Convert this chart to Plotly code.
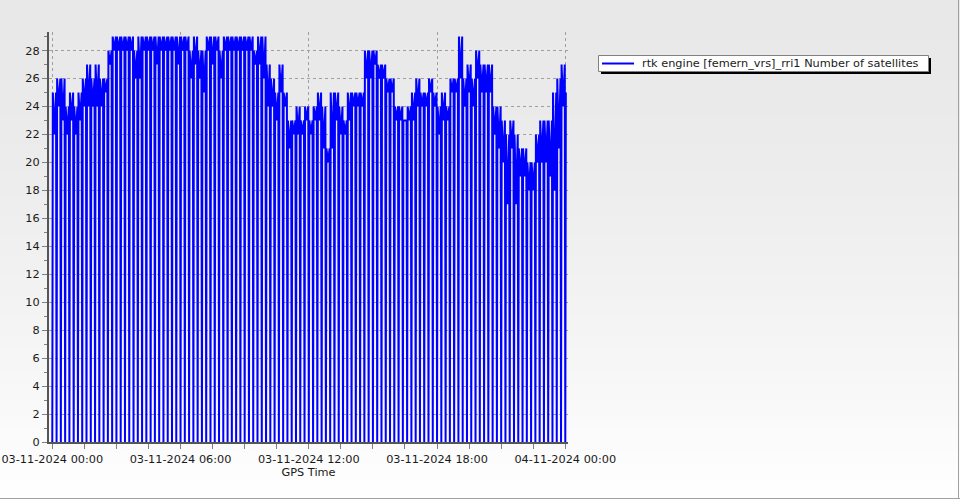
import pandas as pd
import plotly.graph_objects as go

# ---------------- data ----------------
series_name = "rtk engine [femern_vrs]_rri1 Number of satellites"
x_title = "GPS Time"
start_time = "2024-11-03 00:00"
block_minutes = 12          # the count drops to 0 once every 12 minutes

# upper and lower satellite count inside each 12-minute block
block_hi = [25, 26, 26, 24, 25, 24, 25, 26, 27, 26,
            27, 26, 26, 28, 29, 29, 29, 29, 29, 28,
            29, 29, 29, 29, 29, 29, 29, 29, 29, 29,
            29, 29, 28, 29, 28, 28, 29, 29, 29, 28,
            29, 29, 29, 29, 29, 29, 29, 28, 29, 29,
            27, 26, 25, 27, 25, 23, 23, 24, 23, 24,
            23, 24, 25, 24, 21, 25, 25, 24, 23, 25,
            25, 25, 25, 28, 28, 28, 27, 27, 26, 26,
            24, 24, 23, 24, 25, 26, 25, 25, 26, 25,
            24, 25, 24, 26, 26, 29, 26, 27, 26, 28,
            27, 27, 27, 24, 24, 23, 22, 23, 22, 21,
            21, 20, 20, 22, 23, 23, 23, 25, 26, 27]
block_lo = [22, 24, 23, 22, 23, 22, 23, 24, 24, 24,
            24, 24, 25, 27, 28, 28, 28, 28, 28, 26,
            26, 28, 28, 28, 27, 28, 28, 28, 28, 27,
            28, 28, 26, 27, 26, 25, 28, 27, 28, 26,
            28, 28, 28, 28, 28, 28, 28, 27, 27, 26,
            24, 24, 23, 25, 24, 21, 22, 22, 22, 23,
            22, 23, 23, 21, 20, 21, 23, 22, 22, 23,
            24, 24, 24, 26, 26, 27, 26, 26, 25, 25,
            23, 23, 23, 23, 23, 24, 24, 24, 25, 24,
            22, 23, 23, 25, 25, 26, 24, 25, 24, 26,
            25, 25, 25, 22, 21, 20, 17, 21, 17, 19,
            19, 18, 18, 20, 20, 20, 19, 18, 21, 24]
end_value = 25
y_tick_step = 2

# ---------------- layout geometry ----------------
W, H = 960, 500
L, R, T, B = 49, 392, 32, 58
PW, PH = W - L - R, H - T - B
PX_PER_HOUR = 21.375


def px(xp):
    return (xp - L) / PW


def py(yp):
    return (H - B - yp) / PH


# ---------------- build the trace ----------------
t0 = pd.Timestamp(start_time)
blk = pd.Timedelta(minutes=block_minutes)
d = pd.Timedelta(seconds=90)
xs, ys = [], []
for k, (hi, lo) in enumerate(zip(block_hi, block_lo)):
    t = t0 + k * blk
    xs += [t, t + d, t + blk / 2, t + blk - d]
    ys += [0, hi, lo, hi]
t_end = t0 + len(block_hi) * blk
xs += [t_end, t_end + d]
ys += [0, end_value]

x_left = t0 - pd.Timedelta(hours=3.3 / PX_PER_HOUR)
x_right = x_left + pd.Timedelta(hours=PW / PX_PER_HOUR)
y_top = PH / 13.98

fig = go.Figure()
fig.add_trace(go.Scatter(x=xs, y=ys, mode="lines", name=series_name,
                         line=dict(color="#0000ff", width=2),
                         showlegend=False, hoverinfo="skip"))

shapes = []
# background vertical gradient
n = 100
for i in range(n):
    y0p, y1p = i * H / n, (i + 1) * H / n
    v = int(round(232 + 23 * (((y0p + y1p) / 2) / H) ** 1.5))
    c = f"rgb({v},{v},{v})"
    shapes.append(dict(type="rect", xref="paper", yref="paper",
                       x0=px(0), x1=px(W), y0=py(y1p + 0.5), y1=py(y0p),
                       fillcolor=c, line=dict(width=0), layer="below"))
# outer border (bottom / right)
shapes.append(dict(type="line", xref="paper", yref="paper",
                   x0=px(0), x1=px(W), y0=py(498.5), y1=py(498.5),
                   line=dict(color="#a0a0a0", width=1), layer="above"))
shapes.append(dict(type="line", xref="paper", yref="paper",
                   x0=px(958.5), x1=px(958.5), y0=py(0), y1=py(499),
                   line=dict(color="#a0a0a0", width=1), layer="above"))
# legend: shadow, box, sample line
shapes.append(dict(type="rect", xref="paper", yref="paper",
                   x0=px(601), x1=px(931), y0=py(74), y1=py(58),
                   fillcolor="#000000", line=dict(width=0), layer="above"))
shapes.append(dict(type="rect", xref="paper", yref="paper",
                   x0=px(598.5), x1=px(928.5), y0=py(71.5), y1=py(55.5),
                   fillcolor="#ffffff", line=dict(color="#808080", width=1), layer="above"))
shapes.append(dict(type="line", xref="paper", yref="paper",
                   x0=px(602), x1=px(634), y0=py(63.5), y1=py(63.5),
                   line=dict(color="#0000ff", width=2), layer="above"))

font = dict(family="DejaVu Sans, Verdana, sans-serif", size=11.3, color="#1a1a1a")

fig.update_layout(
    width=W, height=H,
    margin=dict(l=L, r=R, t=T, b=B, pad=0, autoexpand=False),
    paper_bgcolor="#ffffff",
    plot_bgcolor="rgba(0,0,0,0)",
    font=font,
    shapes=shapes,
    annotations=[dict(text=series_name, xref="paper", yref="paper",
                      x=px(640), y=py(63.5), xanchor="left", yanchor="middle",
                      showarrow=False, font=font)],
    xaxis=dict(type="date", range=[x_left, x_right], automargin=False,
               tickformat="%d-%m-%Y %H:%M", tick0=start_time, dtick=6 * 3600000,
               ticks="outside", ticklen=5, tickcolor="#808080",
               showgrid=True, gridcolor="#a0a0a0", griddash="3px,3px", gridwidth=1,
               showline=True, linecolor="#555555", linewidth=2,
               zeroline=False,
               minor=dict(dtick=5400000, tick0=start_time, ticks="outside",
                          ticklen=5, tickcolor="#808080", showgrid=False),
               title=dict(text=x_title, standoff=4, font=font),
               tickfont=font),
    yaxis=dict(range=[0, y_top], tick0=0, dtick=y_tick_step, automargin=False,
               ticks="outside", ticklen=5, tickcolor="#808080",
               showgrid=True, gridcolor="#a0a0a0", griddash="3px,3px", gridwidth=1,
               showline=True, linecolor="#555555", linewidth=2,
               zeroline=False,
               minor=dict(dtick=1, ticks="outside", ticklen=3,
                          tickcolor="#808080", showgrid=False),
               tickfont=font),
)

fig.write_html("out.html", config={"displayModeBar": False},
               post_script="document.body.style.margin='0';document.body.style.overflow='hidden';")
